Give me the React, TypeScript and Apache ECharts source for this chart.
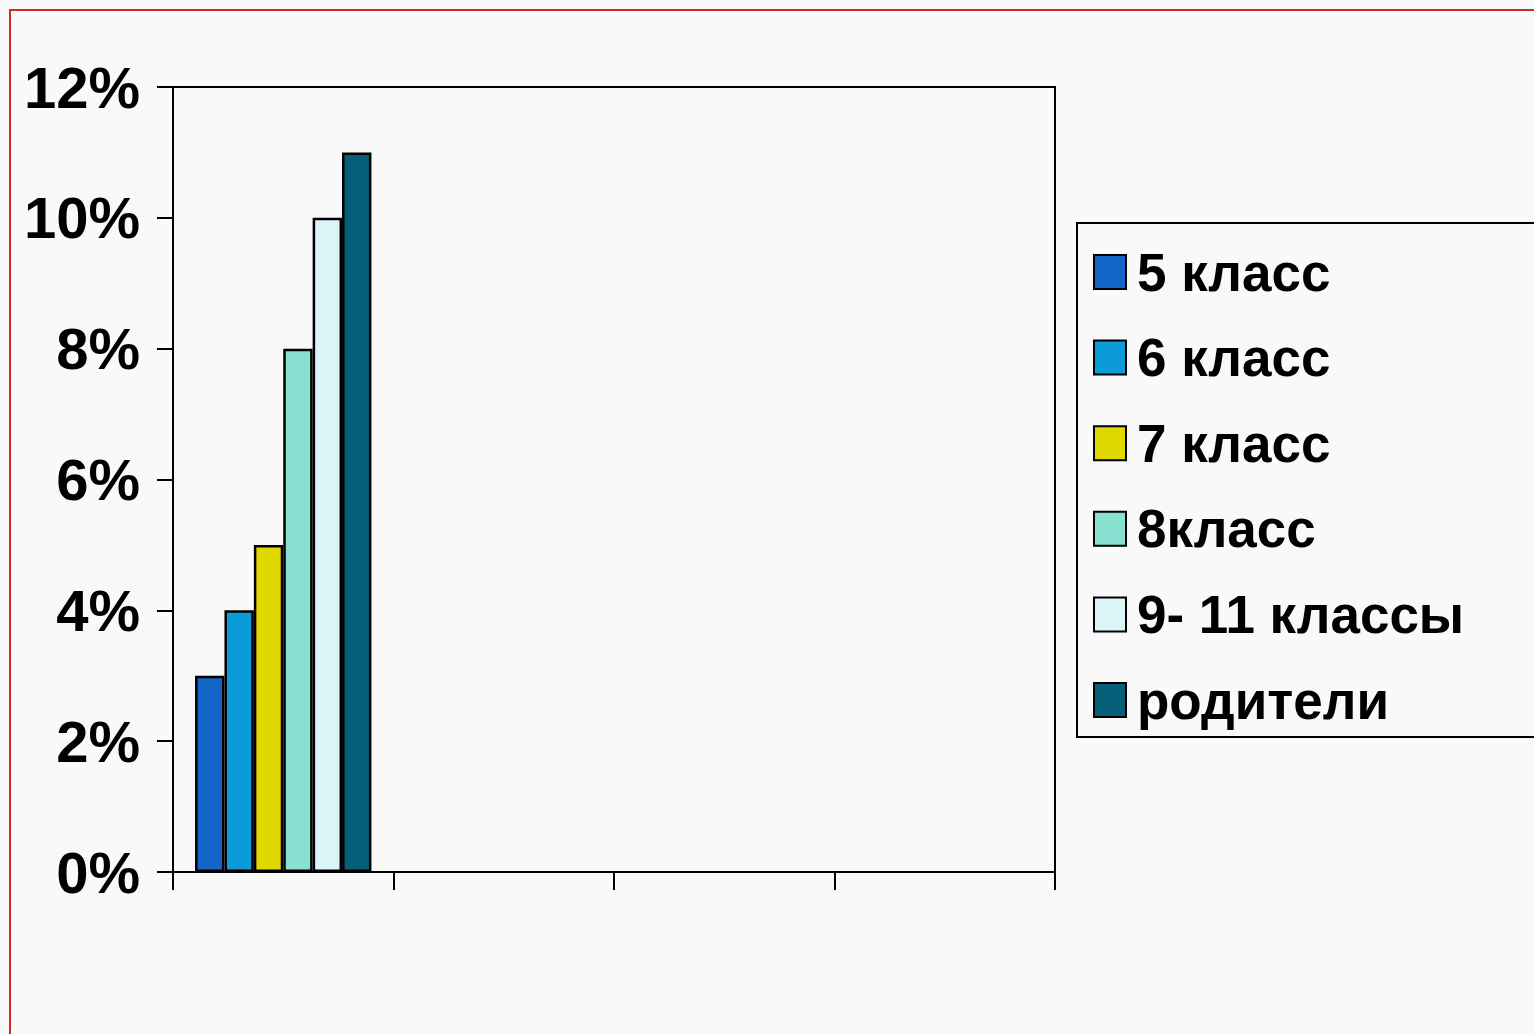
import React, { useEffect, useRef } from "react";
import * as echarts from "echarts";

const categories = ["1", "2", "3", "4"];
const seriesNames = ["5 класс", "6 класс", "7 класс", "8класс", "9- 11 классы", "родители"];
const seriesValues: (number | null)[][] = [
  [0.03, null, null, null],
  [0.04, null, null, null],
  [0.05, null, null, null],
  [0.08, null, null, null],
  [0.10, null, null, null],
  [0.11, null, null, null],
];
const seriesColors = ["#1466c6", "#0a9bd8", "#e0d700", "#88e0d0", "#dbf4f8", "#055f78"];

const FONT = "'Liberation Sans Narrow', 'Arial Narrow', 'Liberation Sans', Arial, sans-serif";

export default function App() {
  const ref = useRef<HTMLDivElement>(null);
  useEffect(() => {
    document.body.style.margin = "0";
    const chart = echarts.init(ref.current!, null, { renderer: "svg" });
    chart.setOption({
      animation: false,
      backgroundColor: "#f9f9f9",
      graphic: [
        {
          type: "rect",
          shape: { x: 10, y: 10, width: 1600, height: 1100 },
          style: { fill: "none", stroke: "#d02a2a", lineWidth: 2 },
          silent: true,
        },
      ],
      grid: {
        left: 173,
        top: 87,
        right: 479,
        bottom: 162,
        show: true,
        borderColor: "#000",
        borderWidth: 2,
        backgroundColor: "transparent",
      },
      legend: {
        orient: "vertical",
        left: 1077,
        top: 223,
        data: seriesNames.map((name) => ({ name, icon: "rect" })),
        itemWidth: 32,
        itemHeight: 34,
        itemGap: 31.6,
        padding: [22, 200, 10, 16],
        borderColor: "#000",
        borderWidth: 2,
        backgroundColor: "transparent",
        textStyle: {
          fontFamily: FONT,
          fontWeight: "bold",
          fontSize: 53,
          lineHeight: 54,
          color: "#000",
          padding: [0, 0, 0, 6],
        },
        itemStyle: { borderColor: "#000", borderWidth: 2 },
      },
      xAxis: {
        type: "category",
        data: categories,
        boundaryGap: true,
        axisLine: { lineStyle: { color: "#000", width: 2 } },
        axisTick: { show: true, length: 18, lineStyle: { color: "#000", width: 2 } },
        axisLabel: { show: false },
        splitLine: { show: false },
      },
      yAxis: {
        type: "value",
        min: 0,
        max: 0.12,
        interval: 0.02,
        axisLine: { show: true, lineStyle: { color: "#000", width: 2 } },
        axisTick: { show: true, length: 16, lineStyle: { color: "#000", width: 2 } },
        splitLine: { show: false },
        axisLabel: {
          margin: 33,
          fontFamily: FONT,
          fontWeight: "bold",
          fontSize: 58,
          color: "#000",
          formatter: (v: number) => `${Math.round(v * 100)}%`,
        },
      },
      series: seriesNames.map((name, i) => ({
        name,
        type: "bar",
        data: seriesValues[i],
        barGap: "0%",
        barCategoryGap: "20%",
        itemStyle: { color: seriesColors[i], borderColor: "#000", borderWidth: 2.5 },
      })),
    });
    return () => chart.dispose();
  }, []);
  return <div ref={ref} style={{ position: "absolute", left: 0, top: 0, width: 1534, height: 1034 }} />;
}
